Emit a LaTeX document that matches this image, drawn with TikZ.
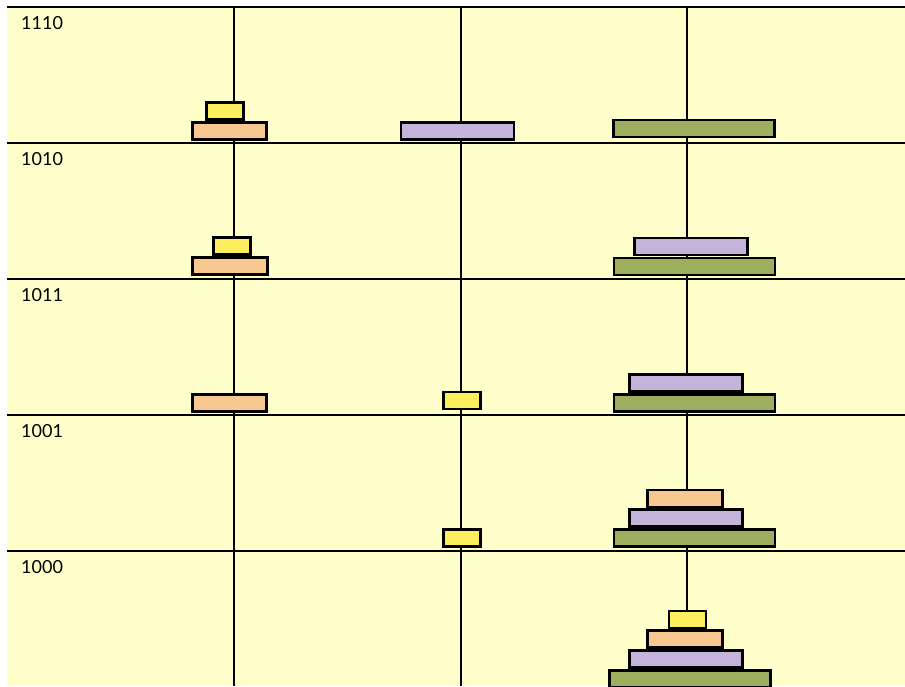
\documentclass[tikz,border=0pt]{standalone}
\usepackage{fontspec}
\setmainfont{Lato}
\definecolor{bg}{HTML}{FFFFCC}
\definecolor{dyel}{HTML}{FCEE5C}
\definecolor{dpea}{HTML}{F8C890}
\definecolor{dpur}{HTML}{C4B4DA}
\definecolor{dgrn}{HTML}{9DAF5E}
\begin{document}
\begin{tikzpicture}[x=1pt,y=-1pt,
  disk/.style={draw=black,line width=2.8pt,rectangle,inner sep=0pt,minimum height=17pt},
  yel/.style={disk,fill=dyel,minimum width=37pt},
  pea/.style={disk,fill=dpea,minimum width=74.5pt},
  pur/.style={disk,fill=dpur,minimum width=113pt},
  grn/.style={disk,fill=dgrn,minimum width=161pt},
  sep/.style={line width=2pt},
  peg/.style={line width=1.8pt},
  lbl/.style={anchor=base west,inner sep=0pt,font=\fontsize{18}{21}\selectfont}]
\useasboundingbox (0,0) rectangle (905,686);
\clip (0,0) rectangle (905,686);
\fill[bg] (7,7) rectangle (905,686);
% pegs
\coordinate (p1t) at (234,7); \coordinate (p1b) at (234,686);
\coordinate (p2t) at (461,7); \coordinate (p2b) at (461,686);
\coordinate (p3t) at (687,7); \coordinate (p3b) at (687,686);
\draw[peg] (p1t) -- (p1b);
\draw[peg] (p2t) -- (p2b);
\draw[peg] (p3t) -- (p3b);
% separators
\foreach \i/\y in {0/7,1/143,2/279,3/415,4/551}{
  \coordinate (sl\i) at (7,\y); \coordinate (sr\i) at (905,\y);
  \draw[sep] (sl\i) -- (sr\i);
}
% labels
\node[lbl] (l1) at (21,29) {1110};
\node[lbl] (l2) at (21,165) {1010};
\node[lbl] (l3) at (21,301) {1011};
\node[lbl] (l4) at (21,437) {1001};
\node[lbl] (l5) at (21,573) {1000};
% row 1
\node[pea] (a2) at (229.5,131) {};
\node[yel] (a1) at (225,111) {};
\node[pur] (a3) at (457.5,131) {};
\node[grn] (a4) at (694,128.5) {};
% row 2
\node[pea] (b2) at (230,266) {};
\node[yel] (b1) at (232,246) {};
\node[grn] (b4) at (694.5,266.5) {};
\node[pur] (b3) at (691,246.5) {};
% row 3
\node[pea] (c2) at (229.5,403) {};
\node[yel] (c1) at (462,400.5) {};
\node[grn] (c4) at (694.5,403) {};
\node[pur] (c3) at (686,383) {};
% row 4
\node[yel] (d1) at (462,538) {};
\node[grn] (d4) at (694.5,538) {};
\node[pur] (d3) at (686,518) {};
\node[pea] (d2) at (685,498.5) {};
% row 5
\node[grn] (e4) at (690,679) {};
\node[pur] (e3) at (686,659) {};
\node[pea] (e2) at (685,639) {};
\node[yel] (e1) at (687.5,619.5) {};
\end{tikzpicture}
\end{document}
